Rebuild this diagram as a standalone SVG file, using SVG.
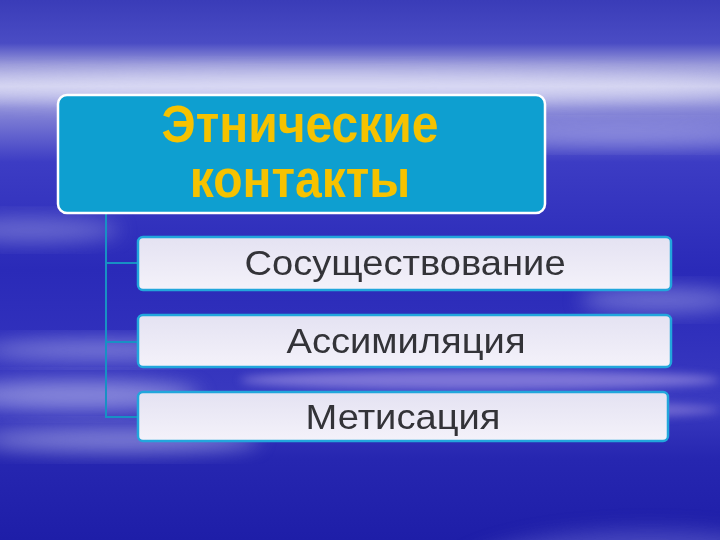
<svg xmlns="http://www.w3.org/2000/svg" width="720" height="540" viewBox="0 0 720 540">
<defs>
<linearGradient id="bg" x1="0" y1="0" x2="0" y2="1">
<stop offset="0" stop-color="#3a3cb8"/>
<stop offset="0.08" stop-color="#4a4cc4"/>
<stop offset="0.12" stop-color="#9a9ada"/>
<stop offset="0.16" stop-color="#c8c8ec"/>
<stop offset="0.2" stop-color="#8a8ad8"/>
<stop offset="0.3" stop-color="#3c3cc4"/>
<stop offset="0.5" stop-color="#2a2ab8"/>
<stop offset="0.62" stop-color="#3030bc"/>
<stop offset="0.75" stop-color="#3a3ac0"/>
<stop offset="0.85" stop-color="#2626b0"/>
<stop offset="1" stop-color="#1e1ea8"/>
</linearGradient>
<filter id="blur" x="-50%" y="-50%" width="200%" height="200%"><feGaussianBlur stdDeviation="10"/></filter>
<filter id="blur2" x="-50%" y="-50%" width="200%" height="200%"><feGaussianBlur stdDeviation="5"/></filter>
<linearGradient id="child" x1="0" y1="0" x2="0" y2="1">
<stop offset="0" stop-color="#e4e2f2"/>
<stop offset="1" stop-color="#f4f2fa"/>
</linearGradient>
<style>
.main{fill:#0e9fd0;stroke:#ffffff;stroke-width:2.5}
.child{fill:url(#child);stroke:#22a6dc;stroke-width:2.5}
.ttl{font-family:"Liberation Sans",Arial,sans-serif;font-weight:bold;font-size:48px;fill:#f6c200;text-anchor:middle}
.lbl{font-family:"Liberation Sans",Arial,sans-serif;font-size:35px;fill:#333338;text-anchor:middle}
.conn{fill:none;stroke:#1890c4;stroke-width:2}
</style>
</defs>
<rect width="720" height="540" fill="url(#bg)"/>
<g opacity="0.55">
<ellipse cx="320" cy="88" rx="420" ry="16" fill="#e8e8fa" filter="url(#blur)"/>
<ellipse cx="620" cy="135" rx="160" ry="10" fill="#b8b8ee" filter="url(#blur)"/>
<ellipse cx="30" cy="230" rx="90" ry="12" fill="#9c9ce0" filter="url(#blur)"/>
<ellipse cx="660" cy="300" rx="80" ry="12" fill="#a8a8e8" filter="url(#blur)"/>
<ellipse cx="100" cy="350" rx="120" ry="10" fill="#c0c0f0" filter="url(#blur)"/>
<ellipse cx="80" cy="395" rx="120" ry="14" fill="#d0d0f4" filter="url(#blur)"/>
<ellipse cx="480" cy="380" rx="240" ry="10" fill="#b8a8ec" filter="url(#blur2)"/>
<ellipse cx="520" cy="410" rx="200" ry="8" fill="#a898e4" filter="url(#blur2)"/>
<ellipse cx="120" cy="440" rx="140" ry="12" fill="#c8c8f2" filter="url(#blur)"/>
<ellipse cx="650" cy="580" rx="200" ry="50" fill="#6a6ad0" filter="url(#blur)"/>
</g>
<g id="connectors">
<path class="conn" d="M106 213 V417 H138 M106 263 H138 M106 342 H138"/>
</g>
<g id="node-main">
<rect class="main" x="58" y="95" width="487" height="118" rx="9"/>
<text class="ttl" transform="translate(300 142) scale(1 1.08)">Этнические</text>
<text class="ttl" transform="translate(300 197) scale(1 1.08)">контакты</text>
</g>
<g id="node-coexistence">
<rect class="child" x="138" y="237" width="533" height="53" rx="5"/>
<text class="lbl" transform="translate(405 275) scale(1.09 1)">Сосуществование</text>
</g>
<g id="node-assimilation">
<rect class="child" x="138" y="315" width="533" height="52" rx="5"/>
<text class="lbl" transform="translate(406 353) scale(1.09 1)">Ассимиляция</text>
</g>
<g id="node-metisation">
<rect class="child" x="138" y="392" width="530" height="49" rx="5"/>
<text class="lbl" transform="translate(403 429) scale(1.09 1)">Метисация</text>
</g>
</svg>
